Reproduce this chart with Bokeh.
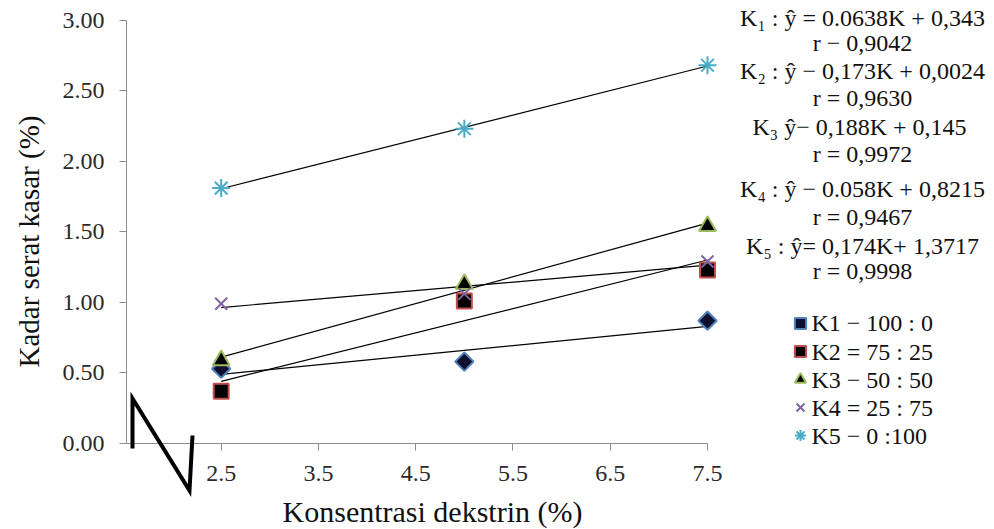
import numpy as np
from bokeh.plotting import figure
from bokeh.models import (Range1d, FixedTicker, Legend, LegendItem,
                          CustomJSTickFormatter)
from bokeh.core.properties import value
from bokeh.embed import file_html
from bokeh.resources import INLINE

# ---------------- data ----------------
x_conc = [2.5, 5.0, 7.5]
k1 = [0.53, 0.58, 0.87]
k2 = [0.37, 1.01, 1.23]
k3 = [0.59, 1.13, 1.54]
k4 = [0.99, 1.06, 1.29]
k5 = [1.81, 2.23, 2.68]
series_labels = ["K1 \u2212 100 : 0", "K2 = 75 : 25", "K3 \u2212 50 : 50", "K4 = 25 : 75", "K5 \u2212 0 :100"]
x_ticks = [2.5, 3.5, 4.5, 5.5, 6.5, 7.5]
y_ticks = [0.0, 0.5, 1.0, 1.5, 2.0, 2.5, 3.0]
x_title = "Konsentrasi dekstrin (%)"
y_title = "Kadar serat kasar (%)"
equations = [
    "K\u2081 : \u0177 = 0.0638K + 0,343",
    "r \u2212 0,9042",
    "K\u2082 : \u0177 \u2212 0,173K + 0,0024",
    "r = 0,9630",
    "K\u2083  \u0177\u2212 0,188K + 0,145",
    "r = 0,9972",
    "K\u2084 : \u0177 \u2212 0.058K + 0,8215",
    "r = 0,9467",
    "K\u2085 : \u0177= 0,174K+ 1,3717",
    "r = 0,9998",
]

FONT = "Liberation Serif"
W, H = 994, 529
FL, FR, FT, FB = 126, 994, 0, 443          # frame pixel box
XS = 97.26                                  # px per x unit
YS = 141.13                                 # px per y unit
X0 = 2.5 - (220.7 - FL) / XS
X1 = 2.5 + (FR - 220.7) / XS
Y0 = 0.0
Y1 = (FB - FT) / YS

def px2x(px):
    return X0 + (px - FL) / XS

def px2y(py):
    return (FB - py) / YS

p = figure(width=W, height=H, output_backend="svg", toolbar_location=None,
           x_range=Range1d(X0, X1), y_range=Range1d(Y0, Y1),
           min_border_left=FL, min_border_right=W - FR, min_border_top=FT,
           min_border_bottom=H - FB)
p.outline_line_color = None
p.xgrid.visible = False
p.ygrid.visible = False
p.background_fill_color = "white"
p.border_fill_color = "white"

blank = CustomJSTickFormatter(code="return ''")
xa = p.xaxis[0]
ya = p.yaxis[0]
for ax in (xa, ya):
    ax.axis_line_color = "#8c8c8c"
    ax.major_tick_line_color = "#8c8c8c"
    ax.minor_tick_line_color = None
    ax.major_tick_in = 0
    ax.major_tick_out = 7
    ax.formatter = blank
    ax.major_label_text_font_size = "1px"
    ax.major_label_standoff = 0

xa.ticker = FixedTicker(ticks=x_ticks)
xa.bounds = (X0, x_ticks[-1])
ya.ticker = FixedTicker(ticks=y_ticks)
ya.bounds = (y_ticks[0], y_ticks[-1])

def add_text(xs, ys, texts, size, color="#111111", align="left", **kw):
    p.text(x=xs, y=ys, text=texts, text_font=value(FONT), text_font_size=value(size),
           text_color=color, text_align=align, text_baseline="middle", level="overlay", **kw)

# tick labels (serif), placed at the axis tick values
TICK_COLOR = "#2a2a2a"
add_text(x_ticks, [Y0] * len(x_ticks), [f"{t:.1f}" for t in x_ticks], "24px",
         color=TICK_COLOR, align="center", y_offset=30)
add_text([X0] * len(y_ticks), y_ticks, [f"{t:.2f}" for t in y_ticks], "24px",
         color=TICK_COLOR, align="right", x_offset=-22)

# axis titles
add_text([px2x(432)], [Y0], [x_title], "30px", align="center", y_offset=68)
add_text([X0], [px2y(241)], [y_title], "29px", align="center", angle=np.pi / 2,
         x_offset=-(FL - 28))

# trend lines (least squares fit of each series)
xs_fit = np.array([x_conc[0], x_conc[-1]])
series = [k1, k2, k3, k4, k5]
for ys in series:
    b, a = np.polyfit(x_conc, ys, 1)
    p.line(xs_fit, a + b * xs_fit, line_color="black", line_width=1.2)

# markers
r1 = p.scatter(x_conc, k1, marker="square", angle=np.pi / 4, size=13, fill_color="#10102e", line_color="#4F81BD", line_width=2)
r2 = p.scatter(x_conc, k2, marker="square", size=15, fill_color="black", line_color="#C0504D", line_width=2)
r3 = p.scatter(x_conc, k3, marker="triangle", size=17, fill_color="black", line_color="#9BBB59", line_width=2)
r4 = p.scatter(x_conc, k4, marker="x", size=17, line_color="#8064A2", line_width=2)
r5 = p.scatter(x_conc, k5, marker="asterisk", size=18, line_color="#4BACC6", line_width=2)
renderers = [r1, r2, r3, r4, r5]

# legend: library legend draws the swatches, serif labels beside them
ROW0, ROWH = 322.7, 28.3
legend = Legend(items=[LegendItem(label=" ", renderers=[r]) for r in renderers],
                location=(786 - FL, FB - int(round(ROW0 - 14 + 5 * 28))), orientation="vertical",
                padding=0, spacing=0, margin=0, glyph_width=28, glyph_height=28,
                label_standoff=0, label_text_font_size="1px",
                border_line_color=None, background_fill_alpha=0)
p.add_layout(legend)
add_text([px2x(811)] * len(series_labels),
         [px2y(ROW0 + i * ROWH) for i in range(len(series_labels))],
         series_labels, "24px")

# axis break symbol
zx = [px2x(132), px2x(132), px2x(189), px2x(192)]
zy = [px2y(448), px2y(398), px2y(490), px2y(435)]
p.line(zx, zy, line_color="black", line_width=4, line_join="miter", level="overlay")

# regression equations
eq_y = [17, 42, 70, 97, 126, 153, 188, 216, 245, 270]
add_text([px2x(862)] * len(equations), [px2y(v) for v in eq_y], equations, "24px", align="center")

open("out.html", "w").write(file_html(p, INLINE))
